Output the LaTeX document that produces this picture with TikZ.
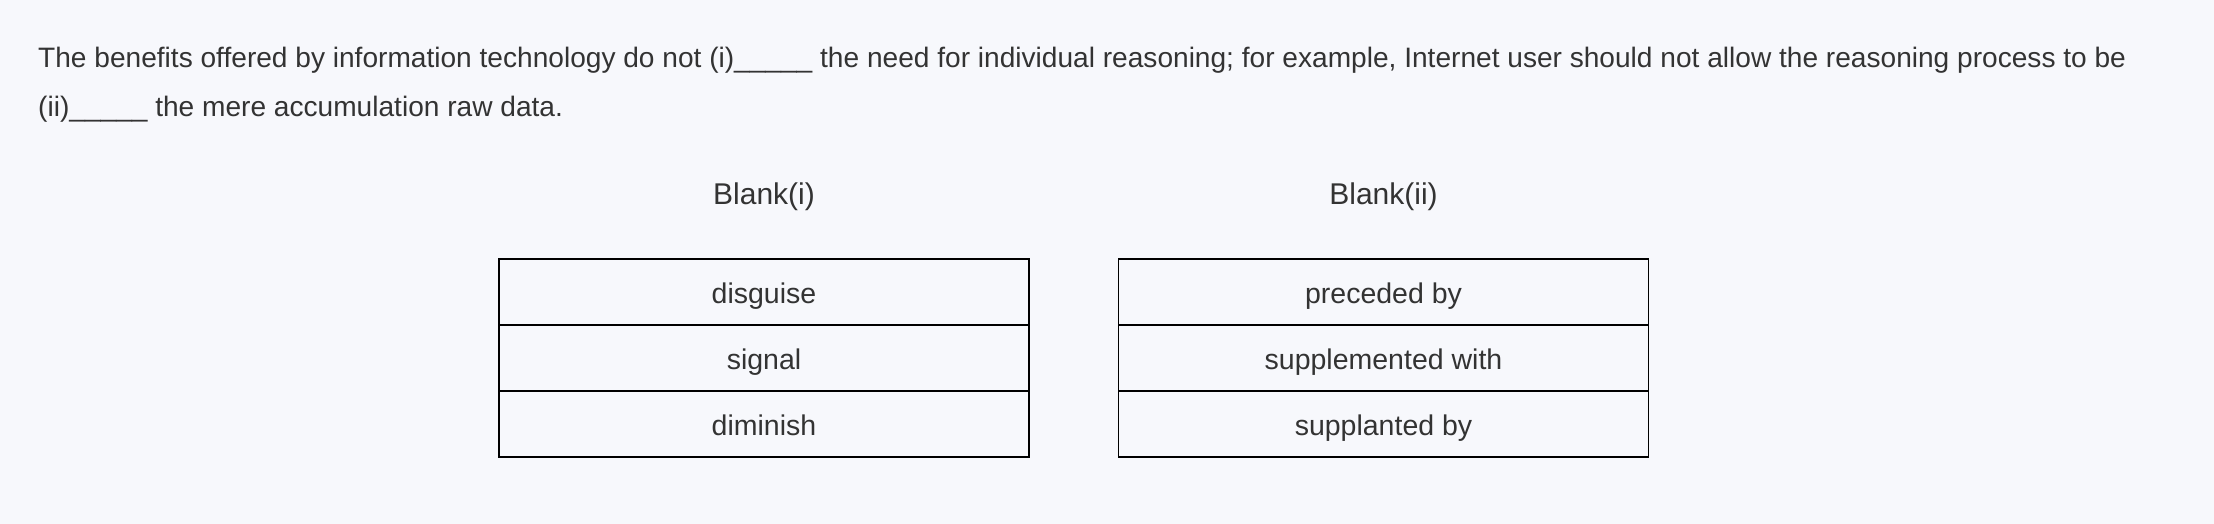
\documentclass[tikz,border=0pt]{standalone}
\usepackage{fontspec}
\setmainfont{Liberation Sans}
\definecolor{bgc}{RGB}{247,248,252}
\definecolor{txt}{RGB}{51,51,51}
\tikzset{
  para/.style={anchor=base west, inner sep=0pt, text=txt, font=\fontsize{28.1}{33}\selectfont},
  head/.style={anchor=base, inner sep=0pt, text=txt, font=\fontsize{30}{36}\selectfont},
  cell/.style={draw=black, line width=1.6pt, minimum width=530pt, minimum height=66pt,
    inner sep=0pt, text height=28pt, text depth=6pt, text=txt, font=\fontsize{28.5}{33}\selectfont}
}
\begin{document}
\begin{tikzpicture}[x=1pt,y=-1pt]
\fill[bgc] (0,0) rectangle (2214,524);
\useasboundingbox (0,0) rectangle (2214,524);
\node[para] (l1) at (38,67.7) {The benefits offered by information technology do not (i)\_\_\_\_\_ the need for individual reasoning; for example, Internet user should not allow the reasoning process to be};
\node[para] (l2) at (38,116.7) {(ii)\_\_\_\_\_ the mere accumulation raw data.};
\node[head] (h1) at (764,204) {Blank(i)};
\node[head] (h2) at (1383.5,204) {Blank(ii)};
\node[cell] (a1) at (764,292) {disguise};
\node[cell] (a2) at (764,358) {signal};
\node[cell] (a3) at (764,424) {diminish};
\node[cell] (b1) at (1383.5,292) {preceded by};
\node[cell] (b2) at (1383.5,358) {supplemented with};
\node[cell] (b3) at (1383.5,424) {supplanted by};
\end{tikzpicture}
\end{document}
